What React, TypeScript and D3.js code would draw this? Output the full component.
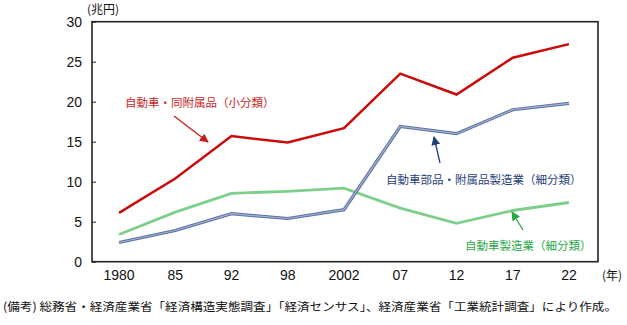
import React, { useEffect, useRef } from 'react';
import * as d3 from 'd3';

// years on the x axis and their labels
const years = ['1980', '1985', '1992', '1998', '2002', '2007', '2012', '2017', '2022'];
const yearLabels = ['1980', '85', '92', '98', '2002', '07', '12', '17', '22'];
// trillion yen
const autoAndParts = [6.1, 10.4, 15.7, 14.9, 16.7, 23.5, 20.9, 25.5, 27.2];
const partsMfg = [2.4, 3.9, 6.0, 5.4, 6.5, 16.9, 16.0, 19.0, 19.8];
const vehicleMfg = [3.4, 6.2, 8.55, 8.8, 9.2, 6.7, 4.8, 6.4, 7.4];
const yTicks = [0, 5, 10, 15, 20, 25, 30];

const JP = '"Noto Sans CJK JP", "Noto Sans", sans-serif';
const NUM = '"Liberation Sans Narrow", "Liberation Sans", Arial, sans-serif';

const App = () => {
  const ref = useRef<SVGSVGElement>(null);

  useEffect(() => {
    const svg = d3.select(ref.current);
    svg.selectAll('*').remove();

    const left = 92, right = 598;
    const x = d3.scalePoint().domain(years).range([119, 569]);
    const y = d3.scaleLinear().domain([0, 30]).range([261.7, 21.7]);

    const defs = svg.append('defs');
    const marker = (id: string, color: string) =>
      defs.append('marker')
        .attr('id', id)
        .attr('viewBox', '0 0 10 10')
        .attr('refX', 9).attr('refY', 5)
        .attr('markerWidth', 9).attr('markerHeight', 9)
        .attr('markerUnits', 'userSpaceOnUse')
        .attr('orient', 'auto')
        .append('path').attr('d', 'M0,0 L10,5 L0,10 z').attr('fill', color);
    marker('arR', '#c81e1e');
    marker('arB', '#1f3f78');
    marker('arG', '#2aa84a');

    // y axis with inward ticks
    const yAxis = d3.axisLeft(y).tickValues(yTicks).tickSize(-4).tickPadding(10);
    const yg = svg.append('g').attr('transform', `translate(${left},0)`).call(yAxis);
    yg.select('.domain').remove();
    yg.selectAll('line').attr('stroke', '#222');
    yg.selectAll('text').attr('font-family', NUM).attr('font-size', 14).attr('fill', '#111');

    // x labels
    svg.append('g').selectAll('text').data(years).join('text')
      .attr('x', d => x(d)!)
      .attr('y', 280)
      .attr('text-anchor', 'middle')
      .attr('font-family', NUM).attr('font-size', 14).attr('fill', '#111')
      .text((d, i) => yearLabels[i]);

    const line = (vals: number[]) =>
      d3.line<number>().x((d, i) => x(years[i])!).y(d => y(d))(vals);

    svg.append('path').attr('d', line(vehicleMfg)).attr('fill', 'none')
      .attr('stroke', '#7fcf8c').attr('stroke-width', 2.8);
    svg.append('path').attr('d', line(partsMfg)).attr('fill', 'none')
      .attr('stroke', '#5c71a0').attr('stroke-width', 3.2);
    svg.append('path').attr('d', line(partsMfg)).attr('fill', 'none')
      .attr('stroke', '#a2b2d0').attr('stroke-width', 1.2);
    svg.append('path').attr('d', line(autoAndParts)).attr('fill', 'none')
      .attr('stroke', '#cc0a0a').attr('stroke-width', 2.5);

    // frame
    svg.append('rect')
      .attr('x', left).attr('y', y(30))
      .attr('width', right - left).attr('height', y(0) - y(30))
      .attr('fill', 'none').attr('stroke', '#222').attr('stroke-width', 1.6);

    // annotations
    const note = (t: string, tx: number, ty: number, color: string,
      x1: number, y1: number, x2: number, y2: number, m: string) => {
      svg.append('text').attr('x', tx).attr('y', ty)
        .attr('font-family', JP).attr('font-size', 11.5).attr('fill', color).text(t);
      svg.append('line').attr('x1', x1).attr('y1', y1).attr('x2', x2).attr('y2', y2)
        .attr('stroke', color).attr('stroke-width', 1.3).attr('marker-end', `url(#${m})`);
    };
    note('自動車・同附属品（小分類）', 125, 107, '#c81e1e', 174, 116, 208, 142, 'arR');
    note('自動車部品・附属品製造業（細分類）', 386, 184, '#1f3f78', 440, 163, 434, 137, 'arB');
    note('自動車製造業（細分類）', 465, 250, '#2aa84a', 523, 230, 512, 212, 'arG');

    svg.append('text').attr('x', 87).attr('y', 14)
      .attr('font-family', JP).attr('font-size', 12).attr('fill', '#111').text('(兆円)');
    svg.append('text').attr('x', 602).attr('y', 280)
      .attr('font-family', JP).attr('font-size', 12).attr('fill', '#111').text('(年)');
    svg.append('text').attr('x', 3).attr('y', 311)
      .attr('font-family', JP).attr('font-size', 11.5).attr('fill', '#111')
      .attr('textLength', 614).attr('lengthAdjust', 'spacingAndGlyphs')
      .text('(備考) 総務省・経済産業省「経済構造実態調査」「経済センサス」、経済産業省「工業統計調査」により作成。');
  }, []);

  return (
    <svg ref={ref} width={627} height={325}
      style={{ position: 'absolute', left: 0, top: 0, background: '#fff' }} />
  );
};

export default App;
